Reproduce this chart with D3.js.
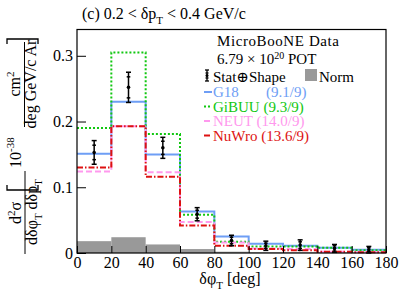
<!DOCTYPE html>
<html><head><meta charset="utf-8">
<script src="https://cdn.jsdelivr.net/npm/d3@7"></script>
<style>
html,body{margin:0;padding:0;background:#fff;}
svg{display:block;}
svg text{font-family:"Liberation Serif","DejaVu Serif",serif !important;}
</style></head>
<body><svg id="c" width="407" height="295"></svg>
<script>
const binEdges = [0,20,40,60,80,100,120,140,160,180];
const xTicks = [0,20,40,60,80,100,120,140,160,180];
const yTicks = [0,0.1,0.2,0.3];
const yTickLabels = ["0","0.1","0.2","0.3"];
const dataVals = [0.153,0.252,0.160,0.059,0.019,0.011,0.012,0.007,0.005];
const dataErrTot = [0.018,0.023,0.016,0.010,0.008,0.007,0.008,0.006,0.005];
const dataErrStat = [0.011,0.016,0.010,0.006,0.005,0.004,0.005,0.004,0.003];
const normVals = [0.018,0.024,0.013,0.006,0.002,0.001,0.001,0.001,0.0005];
const g18 = [0.151,0.230,0.150,0.063,0.025,0.014,0.011,0.008,0.005];
const gibuu = [0.190,0.305,0.181,0.058,0.017,0.010,0.010,0.008,0.004];
const neut = [0.124,0.193,0.123,0.047,0.016,0.007,0.006,0.002,0.001];
const nuwro = [0.130,0.193,0.116,0.042,0.011,0.006,0.004,0.002,0.001];
const modelNames = ["G18","GiBUU","NEUT","NuWro"];
const modelChi2 = ["(9.1/9)","(9.3/9)","(14.0/9)","(13.6/9)"];

const svg = d3.select("#c");
const L=77, R=386, T=29.5, B=253;
const x = d3.scaleLinear().domain([0,180]).range([L,R]);
const y = d3.scaleLinear().domain([0,0.34]).range([B,T]);

// Norm histogram
svg.append("g").selectAll("rect").data(normVals).join("rect")
  .attr("x",(d,i)=>x(binEdges[i])).attr("width",(d,i)=>x(binEdges[i+1])-x(binEdges[i]))
  .attr("y",d=>y(d)).attr("height",d=>y(0)-y(d)).attr("fill","#999999");

const styles = [
  {vals:g18, color:"#6e9ef5", dash:null, w:2},
  {vals:gibuu, color:"#11c711", dash:"2,2", w:2},
  {vals:neut, color:"#ff99ee", dash:"6,3", w:2},
  {vals:nuwro, color:"#dd1111", dash:"6,2,1.5,2", w:2}
];
const stepLine = d3.line().x(d=>x(d[0])).y(d=>y(d[1])).curve(d3.curveStepAfter);
styles.forEach(s=>{
  const pts = s.vals.map((v,i)=>[binEdges[i],v]);
  pts.push([180,s.vals[s.vals.length-1]]);
  svg.append("path").attr("d",stepLine(pts)).attr("fill","none")
    .attr("stroke",s.color).attr("stroke-width",s.w)
    .attr("stroke-dasharray",s.dash);
});

// data points
const dg = svg.append("g").attr("stroke","#000").attr("stroke-width",1.5);
dataVals.forEach((v,i)=>{
  const cx = x((binEdges[i]+binEdges[i+1])/2);
  const e = dataErrTot[i], s = dataErrStat[i];
  dg.append("line").attr("x1",cx).attr("x2",cx).attr("y1",y(v-e)).attr("y2",y(v+e));
  [v-e,v+e].forEach(t=>dg.append("line").attr("x1",cx-2.5).attr("x2",cx+2.5).attr("y1",y(t)).attr("y2",y(t)));
  [v-s,v+s].forEach(t=>dg.append("line").attr("x1",cx-1.8).attr("x2",cx+1.8).attr("y1",y(t)).attr("y2",y(t)));
  dg.append("circle").attr("cx",cx).attr("cy",y(v)).attr("r",1.8).attr("fill","#000").attr("stroke","none");
});

// frame
svg.append("rect").attr("x",L).attr("y",T).attr("width",R-L).attr("height",B-T)
  .attr("fill","none").attr("stroke","#000").attr("stroke-width",1.2);

// axes
const ax = svg.append("g").attr("transform",`translate(0,${B})`)
  .call(d3.axisBottom(x).tickValues(xTicks).tickSize(-7).tickPadding(4).tickFormat(d3.format("d")));
ax.select(".domain").remove();
ax.selectAll("text").attr("font-size",16).attr("fill","#000");
ax.selectAll("line").attr("stroke","#000");
const ay = svg.append("g").attr("transform",`translate(${L},0)`)
  .call(d3.axisLeft(y).tickValues(yTicks).tickSize(-9).tickPadding(4).tickFormat((d,i)=>yTickLabels[i]));
ay.select(".domain").remove();
ay.selectAll("text").attr("font-size",16).attr("fill","#000");
ay.selectAll("line").attr("stroke","#000");

// title
const tt = svg.append("text").attr("x",82).attr("y",19).attr("font-size",16);
tt.append("tspan").text("(c) 0.2 < δp");
tt.append("tspan").attr("font-size",11).attr("dy",5).text("T");
tt.append("tspan").attr("dy",-5).text(" < 0.4 GeV/c");

// x label
const xl = svg.append("text").attr("x",230).attr("y",284).attr("text-anchor","middle").attr("font-size",16);
xl.append("tspan").text("δφ");
xl.append("tspan").attr("font-size",11).attr("dy",5).text("T");
xl.append("tspan").attr("dy",-5).text(" [deg]");

// y title
const yg = svg.append("g").attr("transform","rotate(-90)").attr("font-size",16);
const n1 = yg.append("text").attr("x",-213).attr("y",21).attr("text-anchor","middle");
n1.append("tspan").text("d");
n1.append("tspan").attr("font-size",11).attr("dy",-6).text("2");
n1.append("tspan").attr("dy",6).text("σ");
const d1 = yg.append("text").attr("x",-212).attr("y",37).attr("text-anchor","middle");
d1.append("tspan").text("dδφ");
d1.append("tspan").attr("font-size",11).attr("dy",5).text("T");
d1.append("tspan").attr("dy",-5).text(" dδp");
d1.append("tspan").attr("font-size",11).attr("dy",5).text("T");
svg.append("line").attr("x1",25).attr("x2",25).attr("y1",171).attr("y2",254).attr("stroke","#000").attr("stroke-width",1);
const e1 = yg.append("text").attr("x",-168).attr("y",21);
e1.append("tspan").text("10");
e1.append("tspan").attr("font-size",11).attr("dy",-7).text("-38");
svg.append("path").attr("d","M7,185 L7,190 L38,190 L38,185").attr("fill","none").attr("stroke","#000").attr("stroke-width",1.3);
svg.append("path").attr("d","M7,44 L7,39 L38,39 L38,44").attr("fill","none").attr("stroke","#000").attr("stroke-width",1.3);
const n2 = yg.append("text").attr("x",-84).attr("y",20).attr("text-anchor","middle");
n2.append("tspan").text("cm");
n2.append("tspan").attr("font-size",11).attr("dy",-6).text("2");
yg.append("text").attr("x",-84).attr("y",36).attr("text-anchor","middle").text("deg GeV/c Ar");
svg.append("line").attr("x1",24.5).attr("x2",24.5).attr("y1",42).attr("y2",127).attr("stroke","#000").attr("stroke-width",1);

// legend
const lg = svg.append("g").attr("font-size",15);
lg.append("text").attr("x",217).attr("y",46).attr("textLength",122).text("MicroBooNE Data");
const pot = lg.append("text").attr("x",217).attr("y",64);
pot.append("tspan").text("6.79 × 10");
pot.append("tspan").attr("font-size",10).attr("dy",-5.5).text("20");
pot.append("tspan").attr("dy",5.5).text(" POT");
// data legend icon
const li = lg.append("g").attr("stroke","#000").attr("stroke-width",1.3);
li.append("line").attr("x1",207).attr("x2",207).attr("y1",70).attr("y2",81);
[70,81].forEach(t=>li.append("line").attr("x1",205).attr("x2",209).attr("y1",t).attr("y2",t));
[73,78].forEach(t=>li.append("line").attr("x1",205.5).attr("x2",208.5).attr("y1",t).attr("y2",t));
li.append("circle").attr("cx",207).attr("cy",75.5).attr("r",1.5).attr("fill","#000").attr("stroke","none");
lg.append("text").attr("x",213).attr("y",82).text("Stat⊕Shape");
lg.append("rect").attr("x",305).attr("y",69).attr("width",12).attr("height",12).attr("fill","#999999");
lg.append("text").attr("x",319).attr("y",82).text("Norm");
const legY = [97,111.5,126,140.5];
const chiX = [266,null,null,null];
styles.forEach((s,i)=>{
  lg.append("line").attr("x1",204).attr("x2",212).attr("y1",legY[i]-5).attr("y2",legY[i]-5)
    .attr("stroke",s.color).attr("stroke-width",s.w).attr("stroke-dasharray",s.dash);
  if(chiX[i]!==null){
    lg.append("text").attr("x",213).attr("y",legY[i]).attr("fill",s.color).text(modelNames[i]);
    lg.append("text").attr("x",chiX[i]).attr("y",legY[i]).attr("fill",s.color).text(modelChi2[i]);
  } else {
    lg.append("text").attr("x",213).attr("y",legY[i]).attr("fill",s.color).text(modelNames[i]+" "+modelChi2[i]);
  }
});
</script></body></html>
